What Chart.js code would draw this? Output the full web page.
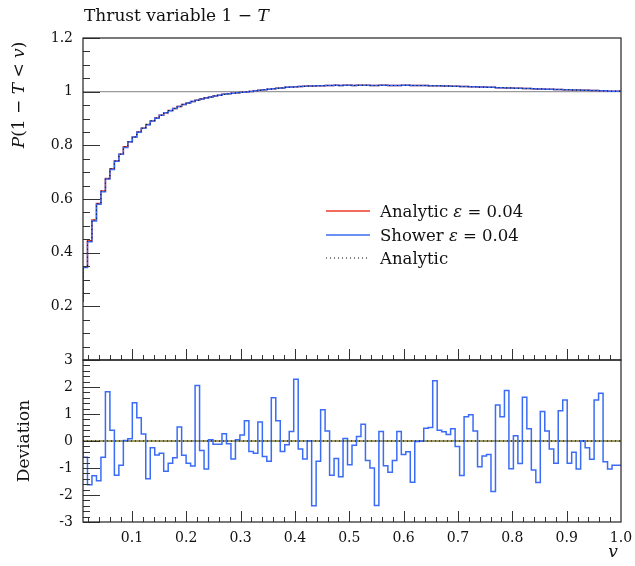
<!DOCTYPE html>
<html>
<head>
<meta charset="utf-8">
<script src="https://cdn.jsdelivr.net/npm/chart.js@4"></script>
<style>
  body { margin: 0; background: #fff; }
  #wrap { position: relative; width: 635px; height: 566px; }
  canvas { position: absolute; left: 0; top: 0; }
</style>
</head>
<body>
<div id="wrap">
  <canvas id="topChart" width="635" height="566"></canvas>
  <canvas id="devChart" width="635" height="566"></canvas>
</div>
<script>
// binning of the histogram
const xLow = 0.01, xHigh = 1.0, nBins = 120;

const xTicks = [0.1, 0.2, 0.3, 0.4, 0.5, 0.6, 0.7, 0.8, 0.9, 1.0];
const xTickLabels = ['0.1', '0.2', '0.3', '0.4', '0.5', '0.6', '0.7', '0.8', '0.9', '1.0'];
const topTicks = [0.2, 0.4, 0.6, 0.8, 1, 1.2];
const topTickLabels = ['0.2', '0.4', '0.6', '0.8', '1', '1.2'];
const devTicks = [-3, -2, -1, 0, 1, 2, 3];
const devTickLabels = ['-3', '-2', '-1', '0', '1', '2', '3'];

// P(1-T < v), shower eps = 0.04
const shower = [
  0.217, 0.345, 0.441, 0.518, 0.580, 0.627, 0.675, 0.710, 0.741, 0.767,
  0.792, 0.813, 0.831, 0.849, 0.864, 0.877, 0.891, 0.901, 0.912, 0.921,
  0.929, 0.937, 0.945, 0.952, 0.958, 0.963, 0.968, 0.973, 0.976, 0.980,
  0.984, 0.987, 0.990, 0.992, 0.994, 0.996, 0.998, 0.999, 1.001, 1.003,
  1.005, 1.007, 1.009, 1.011, 1.013, 1.014, 1.016, 1.017, 1.018, 1.019,
  1.020, 1.021, 1.021, 1.022, 1.022, 1.023, 1.023, 1.024, 1.023, 1.024,
  1.024, 1.023, 1.024, 1.024, 1.024, 1.023, 1.023, 1.024, 1.024, 1.023,
  1.023, 1.023, 1.024, 1.024, 1.023, 1.023, 1.023, 1.023, 1.022, 1.022,
  1.022, 1.021, 1.021, 1.020, 1.020, 1.019, 1.019, 1.018, 1.018, 1.017,
  1.017, 1.016, 1.016, 1.015, 1.015, 1.014, 1.014, 1.013, 1.013, 1.012,
  1.012, 1.011, 1.010, 1.010, 1.009, 1.009, 1.008, 1.008, 1.007, 1.007,
  1.006, 1.006, 1.005, 1.005, 1.004, 1.004, 1.003, 1.003, 1.002, 1.002
];

// analytic eps = 0.04
const analyticEps = [
  0.219, 0.347, 0.444, 0.522, 0.583, 0.630, 0.676, 0.713, 0.742, 0.767,
  0.795, 0.813, 0.831, 0.850, 0.864, 0.878, 0.891, 0.902, 0.912, 0.921,
  0.930, 0.937, 0.945, 0.952, 0.958, 0.963, 0.968, 0.973, 0.977, 0.980,
  0.984, 0.987, 0.990, 0.992, 0.994, 0.996, 0.998, 0.999, 1.001, 1.003,
  1.005, 1.007, 1.009, 1.011, 1.013, 1.014, 1.016, 1.017, 1.018, 1.019,
  1.020, 1.021, 1.021, 1.022, 1.022, 1.023, 1.023, 1.024, 1.023, 1.024,
  1.024, 1.023, 1.024, 1.024, 1.024, 1.023, 1.023, 1.024, 1.024, 1.023,
  1.023, 1.023, 1.024, 1.024, 1.023, 1.023, 1.023, 1.023, 1.022, 1.022,
  1.022, 1.021, 1.021, 1.020, 1.020, 1.019, 1.019, 1.018, 1.018, 1.017,
  1.017, 1.016, 1.016, 1.015, 1.015, 1.014, 1.014, 1.013, 1.013, 1.012,
  1.012, 1.011, 1.010, 1.010, 1.009, 1.009, 1.008, 1.008, 1.007, 1.007,
  1.006, 1.006, 1.005, 1.005, 1.004, 1.004, 1.003, 1.003, 1.002, 1.002
];

// analytic (no cutoff), dotted
const analytic = analyticEps;

// deviation shower vs analytic
const deviation = [
  0.17, -0.60, -1.62, -1.29, -1.47, -0.60, 1.82, 0.40, -1.27, -0.90,
  0.02, 0.08, 1.42, 0.86, 0.26, -1.40, -0.25, -0.52, -0.45, -1.12,
  -0.82, -0.62, 0.52, -0.53, -0.82, -0.93, 2.06, -0.35, -1.04, 0.05,
  -0.12, -0.12, 0.27, -0.10, -0.67, 0.05, 0.22, 0.75, -0.39, -0.45,
  0.70, -0.57, -0.75, 1.60, 0.75, -0.39, -0.14, 0.35, 2.29, -0.30,
  -0.67, 0.00, -2.40, -0.75, 1.16, 0.37, -1.27, -0.65, -1.32, 0.09,
  -0.88, -0.16, 0.17, 0.62, -0.72, -1.00, -2.39, 0.35, -0.92, -1.16,
  -0.72, 0.35, -0.50, -0.40, -1.53, -0.02, 0.00, 0.47, 0.50, 2.23,
  0.40, 0.34, 0.24, 0.45, -0.20, -1.28, 0.90, 0.97, 0.37, -0.95,
  -0.56, -0.50, -1.87, 1.33, 0.90, 1.87, -1.03, 0.19, -0.83, 1.62,
  0.45, -1.07, -1.54, 1.09, 0.37, -0.30, -0.82, 1.12, 1.52, -0.82,
  -0.42, -1.04, 0.00, -0.25, -0.68, 1.52, 1.77, -0.77, -1.04, -0.90
];

const RED = '#ee3b24';
const BLUE = '#3a6cf7';
const FONT = '"DejaVu Serif", "Liberation Serif", serif';

const binW = (xHigh - xLow) / nBins;
function toSteps(vals) {
  const pts = vals.map((v, i) => ({ x: xLow + i * binW, y: v }));
  pts.push({ x: xHigh, y: vals[vals.length - 1] });
  return pts;
}

// text with italic pieces: parts = [[text, italic], ...]
function drawRich(ctx, parts, x, y, size, align) {
  let w = 0;
  parts.forEach(p => {
    ctx.font = (p[1] ? 'italic ' : '') + size + 'px ' + FONT;
    w += ctx.measureText(p[0]).width;
  });
  let cx = align === 'center' ? x - w / 2 : (align === 'right' ? x - w : x);
  ctx.textAlign = 'left';
  parts.forEach(p => {
    ctx.font = (p[1] ? 'italic ' : '') + size + 'px ' + FONT;
    ctx.fillText(p[0], cx, y);
    cx += ctx.measureText(p[0]).width;
  });
}

const frame = {
  id: 'frame',
  beforeDatasetsDraw(chart, args, o) {
    const { ctx, chartArea: a, scales: { y } } = chart;
    const py = y.getPixelForValue(o.refLine);
    ctx.save();
    ctx.strokeStyle = o.refColor;
    ctx.lineWidth = o.refWidth;
    ctx.beginPath();
    ctx.moveTo(a.left, py);
    ctx.lineTo(a.right, py);
    ctx.stroke();
    ctx.restore();
  },
  afterDatasetsDraw(chart, args, o) {
    const { ctx, chartArea: a, scales: { x, y } } = chart;
    ctx.save();
    ctx.strokeStyle = '#333';
    ctx.lineWidth = 1;
    ctx.beginPath();
    // x ticks along the bottom, pointing inwards
    for (let i = 1; i <= 50; i++) {
      const px = Math.round(x.getPixelForValue(i * 0.02)) + 0.5;
      if (px <= a.left + 1 || px >= a.right - 1) continue;
      const len = i % 5 === 0 ? 11 : 5;
      ctx.moveTo(px, a.bottom);
      ctx.lineTo(px, a.bottom - len);
    }
    // y ticks on the left
    for (let i = o.yFrom; i <= o.yTo; i++) {
      const py = Math.round(y.getPixelForValue(i * o.yStep)) + 0.5;
      const len = i % o.yMajor === 0 ? 17 : 7;
      ctx.moveTo(a.left, py);
      ctx.lineTo(a.left + len, py);
    }
    ctx.stroke();
    ctx.strokeStyle = '#222';
    ctx.lineWidth = 1.2;
    ctx.strokeRect(a.left, a.top, a.right - a.left, a.bottom - a.top);

    // y tick labels
    ctx.fillStyle = '#111';
    ctx.textBaseline = 'middle';
    ctx.textAlign = 'right';
    ctx.font = '14px ' + FONT;
    o.yTicks.forEach((v, i) => {
      ctx.fillText(o.yLabels[i], 73, y.getPixelForValue(v));
    });
    o.draw(ctx, chart);
    ctx.restore();
  }
};

function baseOptions(pad, yMin, yMax, frameOpts) {
  return {
    responsive: false,
    animation: false,
    devicePixelRatio: 1,
    layout: { padding: pad },
    elements: { point: { radius: 0 } },
    scales: {
      x: { type: 'linear', min: xLow, max: xHigh, display: false },
      y: { min: yMin, max: yMax, display: false }
    },
    plugins: {
      legend: { display: false },
      tooltip: { enabled: false },
      frame: frameOpts
    }
  };
}

new Chart(document.getElementById('topChart'), {
  type: 'line',
  plugins: [frame],
  data: {
    // first dataset is drawn on top
    datasets: [
      { data: toSteps(analytic), stepped: 'after', borderColor: '#000', borderWidth: 1, borderDash: [1, 3] },
      { data: toSteps(shower), stepped: 'after', borderColor: BLUE, borderWidth: 1.5 },
      { data: toSteps(analyticEps), stepped: 'after', borderColor: RED, borderWidth: 1.5 }
    ]
  },
  options: baseOptions({ left: 83, right: 14, top: 38, bottom: 206 }, 0, 1.2, {
    refLine: 1, refColor: '#9a9a9a', refWidth: 1.2,
    yFrom: 0, yTo: 24, yStep: 0.05, yMajor: 4,
    yTicks: topTicks, yLabels: topTickLabels,
    draw(ctx, chart) {
      ctx.fillStyle = '#111';
      ctx.textBaseline = 'alphabetic';
      drawRich(ctx, [['Thrust variable 1 \u2212 ', false], ['T', true]], 84, 21, 17, 'left');
      // y title
      ctx.save();
      ctx.translate(24, 95);
      ctx.rotate(-Math.PI / 2);
      drawRich(ctx, [['P', true], ['(1 \u2212 ', false], ['T', true], [' < ', false], ['v', true], [')', false]], 0, 0, 17, 'center');
      ctx.restore();
      // legend
      const rows = [
        { y: 211, color: RED, dash: [], parts: [['Analytic ', false], ['\u03b5', true], [' = 0.04', false]] },
        { y: 235, color: BLUE, dash: [], parts: [['Shower ', false], ['\u03b5', true], [' = 0.04', false]] },
        { y: 258, color: '#000', dash: [1, 3], parts: [['Analytic', false]] }
      ];
      rows.forEach(r => {
        ctx.save();
        ctx.strokeStyle = r.color;
        ctx.lineWidth = r.dash.length ? 1 : 1.5;
        ctx.setLineDash(r.dash);
        ctx.beginPath();
        ctx.moveTo(326, r.y);
        ctx.lineTo(370, r.y);
        ctx.stroke();
        ctx.restore();
        ctx.fillStyle = '#111';
        drawRich(ctx, r.parts, 380, r.y + 6, 16.5, 'left');
      });
    }
  })
});

new Chart(document.getElementById('devChart'), {
  type: 'line',
  plugins: [frame],
  data: {
    datasets: [
      { data: toSteps(deviation), stepped: 'after', borderColor: BLUE, borderWidth: 1.5 }
    ]
  },
  options: baseOptions({ left: 83, right: 14, top: 360, bottom: 44 }, -3, 3, {
    refLine: 0, refColor: '#7a7434', refWidth: 1.5,
    yFrom: -15, yTo: 15, yStep: 0.2, yMajor: 5,
    yTicks: devTicks, yLabels: devTickLabels,
    draw(ctx, chart) {
      const { chartArea: a, scales: { x, y } } = chart;
      // dotted analytic reference on zero
      ctx.save();
      ctx.strokeStyle = '#000';
      ctx.lineWidth = 1;
      ctx.setLineDash([1, 3]);
      ctx.beginPath();
      ctx.moveTo(a.left, y.getPixelForValue(0));
      ctx.lineTo(a.right, y.getPixelForValue(0));
      ctx.stroke();
      ctx.restore();
      ctx.fillStyle = '#111';
      ctx.font = '14px ' + FONT;
      ctx.textAlign = 'center';
      ctx.textBaseline = 'middle';
      xTicks.forEach((v, i) => ctx.fillText(xTickLabels[i], x.getPixelForValue(v), 538));
      ctx.textBaseline = 'alphabetic';
      drawRich(ctx, [['v', true]], 613, 557, 17, 'center');
      ctx.save();
      ctx.translate(29, 441);
      ctx.rotate(-Math.PI / 2);
      drawRich(ctx, [['Deviation', false]], 0, 0, 17, 'center');
      ctx.restore();
    }
  })
});
</script>
</body>
</html>
